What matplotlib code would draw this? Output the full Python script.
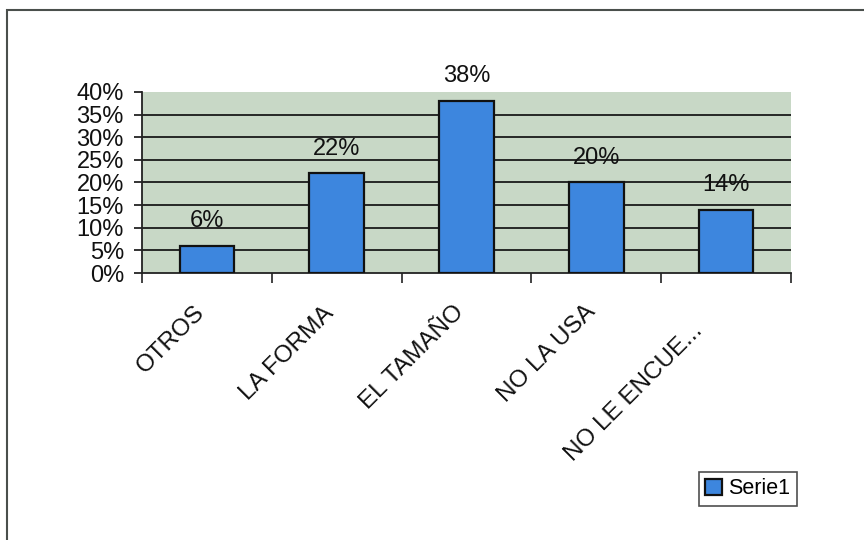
import matplotlib
matplotlib.use("Agg")
import matplotlib.pyplot as plt
import matplotlib.transforms as mtransforms
from matplotlib.patches import Rectangle
import numpy as np

categories = ["OTROS", "LA FORMA", "EL TAMAÑO", "NO LA USA", "NO LE ENCUE..."]
values = [0.06, 0.22, 0.38, 0.20, 0.14]
value_labels = ["6%", "22%", "38%", "20%", "14%"]
yticks = [0, 0.05, 0.10, 0.15, 0.20, 0.25, 0.30, 0.35, 0.40]
ytick_labels = ["0%", "5%", "10%", "15%", "20%", "25%", "30%", "35%", "40%"]
series_name = "Serie1"

plt.rcParams['font.family'] = ['Liberation Sans', 'DejaVu Sans']

fig = plt.figure(figsize=(8.64, 5.4), dpi=100)
fig.patch.set_facecolor('white')

# outer chart frame (left/top visible, rest cut off)
frame = Rectangle((7/864, -0.2), 1.5, (1 - 10/540) + 0.2, transform=fig.transFigure,
                  fill=False, edgecolor='#4a4f4c', linewidth=1.5, clip_on=False)
fig.patches.append(frame)

ax = fig.add_axes([142/864, 1 - 273/540, (791 - 142)/864, (273 - 92)/540])
ax.set_facecolor('#c8d8c6')

x = np.arange(len(categories))
bars = ax.bar(x, values, width=0.42, color='#3d86de', edgecolor='#111111',
              linewidth=1.6, label=series_name, zorder=3)

for xi, v, lab in zip(x, values, value_labels):
    ax.annotate(lab, (xi, v), xytext=(0, 10), textcoords='offset points',
                ha='center', va='bottom', fontsize=17, color='#111111',
                annotation_clip=False)

ax.set_xlim(-0.5, len(categories) - 0.5)
ax.set_ylim(0, 0.40)

ax.set_yticks(yticks)
ax.set_yticklabels(ytick_labels, fontsize=17, color='#111111')
for g in yticks[1:-1]:
    ax.axhline(g, color='#1a1a1a', linewidth=1.3, zorder=1)

ax.tick_params(axis='y', direction='out', length=6, width=1.2, pad=7, colors='#111111')

# category boundary ticks
ax.set_xticks(np.arange(len(categories) + 1) - 0.5)
ax.set_xticklabels([])
ax.tick_params(axis='x', which='major', direction='out', length=7, width=1.2, colors='#222222')
ax.set_xticks(x, minor=True)
ax.set_xticklabels(categories, minor=True, rotation=45, ha='right', va='center',
                   rotation_mode='anchor', fontsize=17.5, color='#111111')
ax.tick_params(axis='x', which='minor', length=0, pad=0)

offsets = [(-6, -36), (-6, -37), (-6, -36), (-4, -35), (-27, -54)]
for lbl, (dx, dy) in zip(ax.get_xticklabels(minor=True), offsets):
    lbl.set_transform(lbl.get_transform() +
                      mtransforms.ScaledTranslation(dx/100, dy/100, fig.dpi_scale_trans))

for s in ['top', 'right']:
    ax.spines[s].set_visible(False)
ax.spines['left'].set_color('#222222')
ax.spines['left'].set_linewidth(1.3)
ax.spines['bottom'].set_color('#222222')
ax.spines['bottom'].set_linewidth(1.3)

leg = ax.legend(loc='upper left', bbox_to_anchor=(699/864, 1 - 472/540),
                bbox_transform=fig.transFigure, borderaxespad=0, fancybox=False,
                frameon=True, edgecolor='#222222', fontsize=15.5, handlelength=0.75,
                handleheight=0.75, handletextpad=0.3, borderpad=0.3)
leg.get_frame().set_linewidth(1.2)

fig.savefig('out.png', dpi=100, facecolor='white')
